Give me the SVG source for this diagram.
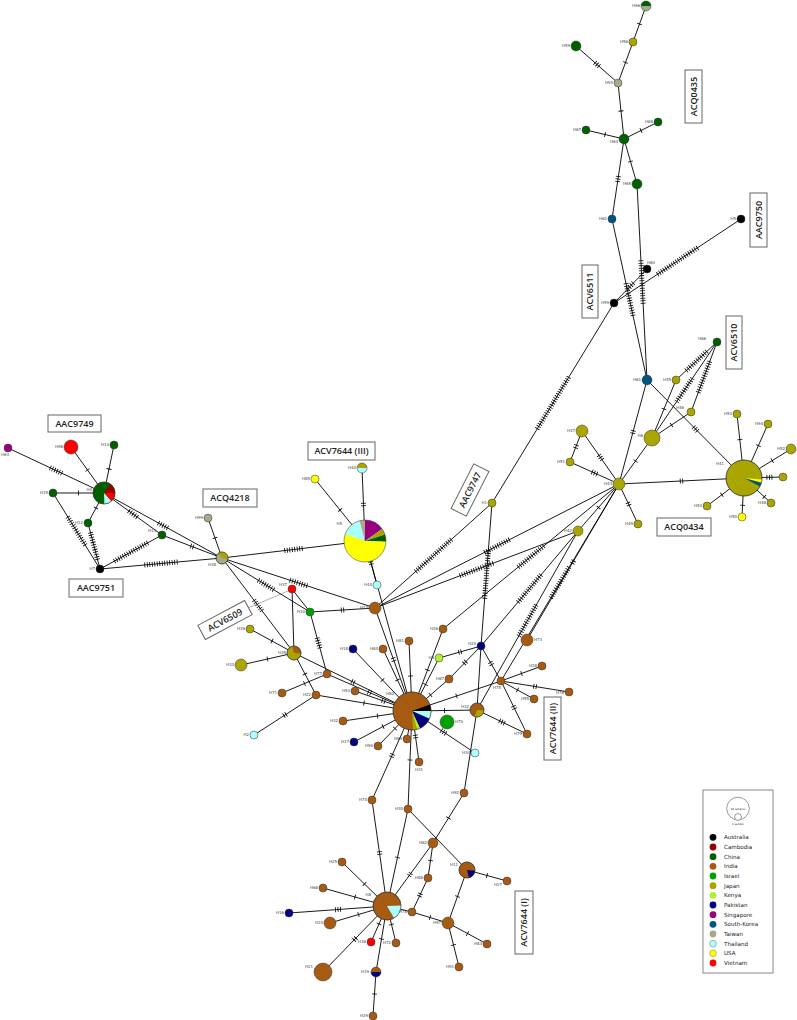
<svg xmlns="http://www.w3.org/2000/svg" width="797" height="1020" viewBox="0 0 797 1020">
<style>
.e polyline,.e line{fill:none;stroke:#000;stroke-width:0.9}
.tk{stroke:#000;stroke-width:5;stroke-dasharray:0.8 1.7;fill:none}
.t1{marker-mid:url(#m1)}.t2{marker-mid:url(#m2)}.t3{marker-mid:url(#m3)}.t4{marker-mid:url(#m4)}.t5{marker-mid:url(#m5)}.t6{marker-mid:url(#m6)}.t8{marker-mid:url(#m8)}.t12{marker-mid:url(#m12)}.t14{marker-mid:url(#m14)}.t15{marker-mid:url(#m15)}.t16{marker-mid:url(#m16)}.t18{marker-mid:url(#m18)}.t20{marker-mid:url(#m20)}.t25{marker-mid:url(#m25)}
.nd{stroke:#333;stroke-width:0.5}
.o{fill:none;stroke:#333;stroke-width:0.5}
.au{fill:#000}.ca{fill:#990000}.cn{fill:#006000}.in{fill:#a65a12}.is{fill:#00a000}.jp{fill:#aaa500}.ke{fill:#b0f030}.pk{fill:#000080}.sg{fill:#990080}.sk{fill:#00557f}.tw{fill:#a9a98a}.th{fill:#aaffff}.us{fill:#ffff00}.vn{fill:#ff0000}
text{font-family:"DejaVu Sans","Liberation Sans",sans-serif}
.nodes text{font-size:4px;fill:#444;text-anchor:end}
.nodes text.s{text-anchor:start}
.nodes text.m{text-anchor:middle}
.bx rect{fill:#fff;stroke:#666;stroke-width:1}
.bx text{font-family:"Open Sans","DejaVu Sans",sans-serif;font-size:9px;font-weight:600;fill:#222;text-anchor:middle}
.lg text{font-size:5.6px;fill:#222}
</style>
<defs>
<marker id="m1" markerUnits="userSpaceOnUse" orient="auto" overflow="visible" markerWidth="1" markerHeight="1"><line class="tk" x1="-0.4" x2="0.4"/></marker>
<marker id="m2" markerUnits="userSpaceOnUse" orient="auto" overflow="visible" markerWidth="1" markerHeight="1"><line class="tk" x1="-1.65" x2="1.65"/></marker>
<marker id="m3" markerUnits="userSpaceOnUse" orient="auto" overflow="visible" markerWidth="1" markerHeight="1"><line class="tk" x1="-2.9" x2="2.9"/></marker>
<marker id="m4" markerUnits="userSpaceOnUse" orient="auto" overflow="visible" markerWidth="1" markerHeight="1"><line class="tk" x1="-4.15" x2="4.15"/></marker>
<marker id="m5" markerUnits="userSpaceOnUse" orient="auto" overflow="visible" markerWidth="1" markerHeight="1"><line class="tk" x1="-5.4" x2="5.4"/></marker>
<marker id="m6" markerUnits="userSpaceOnUse" orient="auto" overflow="visible" markerWidth="1" markerHeight="1"><line class="tk" x1="-6.65" x2="6.65"/></marker>
<marker id="m8" markerUnits="userSpaceOnUse" orient="auto" overflow="visible" markerWidth="1" markerHeight="1"><line class="tk" x1="-9.15" x2="9.15"/></marker>
<marker id="m12" markerUnits="userSpaceOnUse" orient="auto" overflow="visible" markerWidth="1" markerHeight="1"><line class="tk" x1="-14.15" x2="14.15"/></marker>
<marker id="m14" markerUnits="userSpaceOnUse" orient="auto" overflow="visible" markerWidth="1" markerHeight="1"><line class="tk" x1="-16.65" x2="16.65"/></marker>
<marker id="m15" markerUnits="userSpaceOnUse" orient="auto" overflow="visible" markerWidth="1" markerHeight="1"><line class="tk" x1="-17.9" x2="17.9"/></marker>
<marker id="m16" markerUnits="userSpaceOnUse" orient="auto" overflow="visible" markerWidth="1" markerHeight="1"><line class="tk" x1="-19.15" x2="19.15"/></marker>
<marker id="m18" markerUnits="userSpaceOnUse" orient="auto" overflow="visible" markerWidth="1" markerHeight="1"><line class="tk" x1="-21.65" x2="21.65"/></marker>
<marker id="m20" markerUnits="userSpaceOnUse" orient="auto" overflow="visible" markerWidth="1" markerHeight="1"><line class="tk" x1="-24.15" x2="24.15"/></marker>
<marker id="m25" markerUnits="userSpaceOnUse" orient="auto" overflow="visible" markerWidth="1" markerHeight="1"><line class="tk" x1="-30.4" x2="30.4"/></marker>
</defs>
<rect width="797" height="1020" fill="#fff"/>

<g id="connectors" class="e">
<polyline class="t1" points="646,6 639.5,24 633,42"/>
<polyline class="t1" points="633,42 625.5,62.5 618,83"/>
<polyline class="t3" points="576,46 597,64.5 618,83"/>
<polyline class="t1" points="618,83 621,111 624,139"/>
<polyline class="t1" points="586,130 605,134.5 624,139"/>
<polyline class="t1" points="658,122 641,130.5 624,139"/>
<polyline class="t3" points="624,139 618,179 612,219"/>
<polyline class="t1" points="624,139 630.5,161.5 637,184"/>
<polyline class="t14" points="612,219 629.5,299.5 647,380"/>
<polyline class="t18" points="637,184 642,282 647,380"/>
<polyline class="t4" points="614,303 630.5,286 647,269"/>
<polyline class="t20" points="614,303 677.5,261 741,219"/>
<polyline class="t25" points="614,303 553,403 492,503"/>
<polyline class="t2" points="647,380 633,432 619,484"/>
<polyline class="t3" points="647,380 695.5,429 744,478"/>
<polyline class="t1" points="619,484 635.5,461 652,438"/>
<polyline class="t1" points="652,438 664,409 676,380"/>
<polyline class="t1" points="652,438 671.5,425 691,412"/>
<polyline class="t12" points="717,342 696.5,361 676,380"/>
<polyline class="t12" points="717,342 684.5,390 652,438"/>
<polyline class="t14" points="717,342 704,377 691,412"/>
<polyline class="t2" points="582,431 576,446.5 570,462"/>
<polyline class="t3" points="582,431 600.5,457.5 619,484"/>
<polyline class="t3" points="570,462 594.5,473 619,484"/>
<polyline class="t2" points="619,484 628.5,504 638,524"/>
<polyline class="t2" points="619,484 681.5,481 744,478"/>
<polyline class="t1" points="744,478 739.8,439.6 737,414"/>
<polyline class="t1" points="744,478 758.4,445.6 768,424"/>
<polyline class="t1" points="744,478 772.2,460.6 791,449"/>
<polyline class="t3" points="744,478 769.4,477.3 783,477"/>
<polyline class="t1" points="744,478 764.3,496.8 771,503"/>
<polyline class="t1" points="744,478 721.8,494.8 707,506"/>
<polyline class="t1" points="744,478 742.6,505.3 742,517"/>
<polyline class="t1" points="619,484 598.5,507.5 578,531"/>
<polyline class="t12" points="619,484 497,546 375,608"/>
<polyline class="t14" points="619,484 531,556.5 443,629"/>
<polyline class="t15" points="578,531 476.5,569.5 375,608"/>
<polyline class="t15" points="578,531 529.5,588.5 481,646"/>
<polyline class="t15" points="619,484 560,582.5 501,681"/>
<polyline class="t15" points="578,531 527.5,620.5 477,710"/>
<polyline class="t2" points="619,484 573,562 527,640"/>
<polyline class="t20" points="492,503 433.5,555.5 375,608"/>
<polyline class="t20" points="492,503 486.5,574.5 481,646"/>
<polyline class="t6" points="8,448 56,470.5 104,493"/>
<polyline class="t1" points="71,447 87.5,470 104,493"/>
<polyline class="t1" points="114,445 109,469 104,493"/>
<polyline class="t1" points="53,493 78.5,493 104,493"/>
<polyline class="t1" points="88,523 96,508 104,493"/>
<polyline class="t14" points="53,493 76.5,531 100,569"/>
<polyline class="t12" points="88,523 94,546 100,569"/>
<polyline class="t16" points="162,535 131,552 100,569"/>
<polyline class="t5" points="104,493 133,514 162,535"/>
<polyline class="t5" points="104,493 163,525.5 222,558"/>
<polyline class="t2" points="162,535 192,546.5 222,558"/>
<polyline class="t14" points="100,569 161,563.5 222,558"/>
<polyline class="t1" points="208,518 215,538 222,558"/>
<polyline class="t8" points="222,558 293.5,549.5 365,541"/>
<polyline class="t8" points="222,558 298.5,583 375,608"/>
<polyline class="t8" points="222,558 266,585 310,612"/>
<polyline class="t6" points="222,558 258,605.5 294,653"/>
<polyline class="t2" points="362,468 363.5,504.5 365,541"/>
<polyline class="t1" points="315,479 340,510 365,541"/>
<polyline class="t2" points="365,541 371,563 377,585"/>
<line x1="365" y1="541" x2="412" y2="711"/>
<polyline class="t2" points="310,612 342.5,610 375,608"/>
<line x1="292" y1="589" x2="310" y2="612"/>
<line x1="292" y1="589" x2="294" y2="653"/>
<polyline class="t5" points="310,612 318.5,643 327,674"/>
<polyline class="t1" points="250,629 272,641 294,653"/>
<polyline class="t1" points="241,665 267.5,659 294,653"/>
<polyline class="t2" points="294,653 353,682 412,711"/>
<polyline class="t1" points="294,653 305,674 316,695"/>
<polyline class="t1" points="282,693 304.5,683.5 327,674"/>
<polyline class="t2" points="327,674 369.5,692.5 412,711"/>
<polyline class="t2" points="316,695 285,715 254,735"/>
<polyline class="t1" points="316,695 364,703 412,711"/>
<polyline class="t1" points="353,649 382.5,680 412,711"/>
<polyline class="t1" points="383,649 397.5,680 412,711"/>
<polyline class="t1" points="409,641 410.5,676 412,711"/>
<polyline class="t2" points="375,608 393.5,659.5 412,711"/>
<polyline class="t2" points="355,691 383.5,701 412,711"/>
<polyline class="t1" points="343,721 377.5,716 412,711"/>
<polyline class="t1" points="354,742 383,726.5 412,711"/>
<polyline class="t1" points="378,746 395,728.5 412,711"/>
<line x1="407" y1="739" x2="412" y2="711"/>
<polyline class="t2" points="419,762 415.5,736.5 412,711"/>
<polyline class="t2" points="412,711 392,755.5 372,800"/>
<polyline class="t1" points="412,711 410,760 408,809"/>
<polyline class="t3" points="412,711 443.5,732 475,753"/>
<polyline class="t1" points="412,711 444.5,710.5 477,710"/>
<polyline class="t1" points="412,711 456.5,696 501,681"/>
<polyline class="t1" points="412,711 430.5,695 449,679"/>
<polyline class="t1" points="412,711 425.5,684.5 439,658"/>
<polyline class="t1" points="412,711 427.5,670 443,629"/>
<polyline class="t2" points="481,646 460,652 439,658"/>
<polyline class="t2" points="481,646 465,662.5 449,679"/>
<polyline class="t2" points="481,646 491,663.5 501,681"/>
<line x1="481" y1="646" x2="477" y2="710"/>
<line x1="477" y1="710" x2="464" y2="793"/>
<polyline class="t1" points="501,681 521.5,673.5 542,666"/>
<polyline class="t2" points="501,681 535,686.5 569,692"/>
<polyline class="t1" points="501,681 517.5,690 534,699"/>
<polyline class="t2" points="501,681 514,707.5 527,734"/>
<polyline class="t3" points="477,710 502,722 527,734"/>
<polyline class="t2" points="372,800 379.5,853 387,906"/>
<polyline class="t1" points="408,809 397.5,857.5 387,906"/>
<line x1="408" y1="809" x2="467" y2="870"/>
<polyline class="t1" points="464,793 448.5,818 433,843"/>
<polyline class="t2" points="433,843 410,874.5 387,906"/>
<polyline class="t1" points="433,843 430.5,860.5 428,878"/>
<polyline class="t2" points="428,878 420,895 412,912"/>
<line x1="412" y1="912" x2="387" y2="906"/>
<polyline class="t1" points="412,912 430,917.5 448,923"/>
<polyline class="t1" points="467,870 487,875.5 507,881"/>
<polyline class="t1" points="467,870 457.5,896.5 448,923"/>
<polyline class="t1" points="448,923 467.5,933.5 487,944"/>
<polyline class="t1" points="448,923 453.5,945 459,967"/>
<polyline class="t1" points="342,862 364.5,884 387,906"/>
<polyline class="t1" points="323,888 355,897 387,906"/>
<polyline class="t3" points="289,913 338,909.5 387,906"/>
<polyline class="t1" points="330,923 358.5,914.5 387,906"/>
<polyline class="t2" points="323,972 355,939 387,906"/>
<polyline class="t1" points="371,942 379,924 387,906"/>
<polyline class="t1" points="396,943 391.5,924.5 387,906"/>
<polyline class="t1" points="376,972 381.5,939 387,906"/>
<polyline class="t1" points="376,972 374.5,994 373,1016"/>
<line x1="248" y1="608" x2="288" y2="591" style="stroke:#666;stroke-width:0.5"/>
</g>

<g class="nodes">
<g id="n-H96"><path class="cn" d="M641,6 A5,5 0 0,1 651,6 Z"/><path class="tw" d="M641,6 A5,5 0 0,0 651,6 Z"/><circle class="o" cx="646" cy="6" r="5"/><text x="640" y="7.4">H96</text></g>
<g id="n-H58"><circle class="nd jp" cx="633" cy="42" r="4"/><text x="628" y="43.4">H58</text></g>
<g id="n-H59a"><circle class="nd cn" cx="576" cy="46" r="5"/><text x="570" y="47.4">H59</text></g>
<g id="n-H93"><circle class="nd tw" cx="618" cy="83" r="4"/><text x="613" y="84.4">H93</text></g>
<g id="n-H67"><circle class="nd cn" cx="586" cy="130" r="4"/><text x="581" y="131.4">H67</text></g>
<g id="n-H68a"><circle class="nd cn" cx="658" cy="122" r="4"/><text x="653" y="123.4">H68</text></g>
<g id="n-H64"><circle class="nd cn" cx="624" cy="139" r="5"/><text x="618" y="143.4">H64</text></g>
<g id="n-H65"><circle class="nd cn" cx="637" cy="184" r="5"/><text x="631" y="185.4">H65</text></g>
<g id="n-H62"><circle class="nd sk" cx="612" cy="219" r="4"/><text x="607" y="220.4">H62</text></g>
<g id="n-H5a"><circle class="nd au" cx="741" cy="219" r="4"/><text x="736" y="220.4">H5</text></g>
<g id="n-H60"><circle class="nd au" cx="647" cy="269" r="4"/><text class="s" x="647" y="264">H60</text></g>
<g id="n-H59b"><circle class="nd au" cx="614" cy="303" r="4"/><text x="609" y="304.4">H59</text></g>
<g id="n-H61"><circle class="nd sk" cx="647" cy="380" r="5"/><text x="641" y="381.4">H61</text></g>
<g id="n-H86"><circle class="nd cn" cx="717" cy="342" r="4"/><text x="706" y="339.5">H86</text></g>
<g id="n-H45"><circle class="nd jp" cx="676" cy="380" r="4"/><text x="671" y="381.4">H45</text></g>
<g id="n-H46"><circle class="nd jp" cx="691" cy="412" r="4"/><text x="684" y="409">H46</text></g>
<g id="n-H6"><circle class="nd jp" cx="652" cy="438" r="8"/><text x="643" y="437.4">H6</text></g>
<g id="n-H47"><circle class="nd jp" cx="582" cy="431" r="6"/><text x="575" y="432.4">H47</text></g>
<g id="n-H51"><circle class="nd jp" cx="570" cy="462" r="4"/><text x="565" y="463.4">H51</text></g>
<g id="n-H43"><circle class="nd jp" cx="619" cy="484" r="6"/><text x="612" y="485.4">H43</text></g>
<g id="n-H49"><circle class="nd jp" cx="638" cy="524" r="4"/><text x="633" y="525.4">H49</text></g>
<g id="n-H41"><circle class="nd jp" cx="744" cy="478" r="18"/><path class="us" d="M744,478 L761.93,479.57 A18,18 0 0,1 761.39,482.66 Z"/><path class="sk" d="M744,478 L761.39,482.66 A18,18 0 0,1 759.89,486.45 Z"/><circle class="o" cx="744" cy="478" r="18"/><text x="724" y="465">H41</text></g>
<g id="n-H53a"><circle class="nd jp" cx="737" cy="414" r="4"/><text x="732" y="415.4">H53</text></g>
<g id="n-H94"><circle class="nd jp" cx="768" cy="424" r="4"/><text x="763" y="425.4">H94</text></g>
<g id="n-H52"><circle class="nd jp" cx="791" cy="449" r="5"/><text x="785" y="450.4">H52</text></g>
<g id="n-H57"><circle class="nd jp" cx="783" cy="477" r="4"/></g>
<g id="n-H48"><circle class="nd jp" cx="771" cy="503" r="4"/><text x="766" y="504.4">H48</text></g>
<g id="n-H54"><circle class="nd jp" cx="707" cy="506" r="4"/><text x="702" y="507.4">H54</text></g>
<g id="n-H50"><circle class="nd us" cx="742" cy="517" r="4"/><text x="737" y="518.4">H50</text></g>
<g id="n-H42"><circle class="nd jp" cx="578" cy="531" r="5"/><text x="572" y="532.4">H42</text></g>

<g id="n-H63"><circle class="nd sg" cx="8" cy="448" r="4"/><text class="s" x="1" y="456">H63</text></g>
<g id="n-H98"><circle class="nd vn" cx="71" cy="447" r="7"/><text x="63" y="448.4">H98</text></g>
<g id="n-H14"><circle class="nd cn" cx="114" cy="445" r="4"/><text x="109" y="446.4">H14</text></g>
<g id="n-H4"><circle class="nd cn" cx="104" cy="493" r="11"/><path class="ca" d="M104,493 L110.31,483.99 A11,11 0 0,1 115,493 Z"/><path class="vn" d="M104,493 L115,493 A11,11 0 0,1 111.36,501.17 Z"/><path class="th" d="M104,493 L111.36,501.17 A11,11 0 0,1 104.38,503.99 Z"/><circle class="o" cx="104" cy="493" r="11"/><text x="92" y="491">H4</text></g>
<g id="n-H15"><circle class="nd cn" cx="53" cy="493" r="4"/><text x="48" y="494.4">H15</text></g>
<g id="n-H12"><circle class="nd cn" cx="88" cy="523" r="4"/><text x="83" y="524.4">H12</text></g>
<g id="n-H13"><circle class="nd cn" cx="162" cy="535" r="4"/><text x="156" y="532">H13</text></g>
<g id="n-H7"><circle class="nd au" cx="100" cy="569" r="4"/><text x="95" y="570.4">H7</text></g>
<g id="n-H99"><circle class="nd tw" cx="208" cy="518" r="4"/><text x="203" y="519.4">H99</text></g>
<g id="n-H38"><circle class="nd tw" cx="222" cy="558" r="6"/><path class="jp" d="M222,558 L218.14,553.4 A6,6 0 0,1 227.91,559.04 Z"/><circle class="o" cx="222" cy="558" r="6"/><text x="216" y="566">H38</text></g>

<g id="n-H40"><path class="jp" d="M357,468 A5,5 0 0,1 367,468 Z"/><path class="th" d="M357,468 A5,5 0 0,0 367,468 Z"/><circle class="o" cx="362" cy="468" r="5"/><text x="356" y="469.4">H40</text></g>
<g id="n-H85"><circle class="nd us" cx="315" cy="479" r="4"/><text x="310" y="480.4">H85</text></g>
<g id="n-H5b"><path class="sg" d="M365,541 L365,520 A21,21 0 0,1 382.2,528.95 Z"/><path class="jp" d="M365,541 L382.2,528.95 A21,21 0 0,1 384.97,534.51 Z"/><path class="cn" d="M365,541 L384.97,534.51 A21,21 0 0,1 385.99,541.73 Z"/><path class="us" d="M365,541 L385.99,541.73 A21,21 0 1,1 345.27,533.82 Z"/><path class="th" d="M365,541 L345.27,533.82 A21,21 0 0,1 359.57,520.72 Z"/><path class="tw" d="M365,541 L359.57,520.72 A21,21 0 0,1 365,520 Z"/><circle class="o" cx="365" cy="541" r="21"/><text x="342" y="525">H5</text></g>
<g id="n-H44"><circle class="nd th" cx="377" cy="585" r="4"/><text x="372" y="586.4">H44</text></g>
<g id="n-H23"><circle class="nd in" cx="375" cy="608" r="6"/><text x="368" y="609.4">H23</text></g>
<g id="n-H37"><circle class="nd vn" cx="292" cy="589" r="4"/><text x="287" y="585.5">H37</text></g>
<g id="n-H10"><circle class="nd is" cx="310" cy="612" r="4"/><text x="305" y="613.4">H10</text></g>
<g id="n-H1"><circle class="nd jp" cx="492" cy="503" r="4"/><text x="487" y="504.4">H1</text></g>
<g id="n-H39"><circle class="nd jp" cx="250" cy="629" r="4"/><text x="245" y="630.4">H39</text></g>
<g id="n-H33"><circle class="nd jp" cx="241" cy="665" r="6"/><text x="234" y="666.4">H33</text></g>
<g id="n-H35"><circle class="nd jp" cx="294" cy="653" r="7"/><path class="in" d="M294,653 L292.19,646.24 A7,7 0 0,1 300.97,653.61 Z"/><circle class="o" cx="294" cy="653" r="7"/><text x="286" y="654.4">H35</text></g>
<g id="n-H77"><circle class="nd in" cx="327" cy="674" r="4"/><text x="322" y="675.4">H77</text></g>
<g id="n-H71"><circle class="nd in" cx="282" cy="693" r="4"/><text x="277" y="694.4">H71</text></g>
<g id="n-H22"><circle class="nd in" cx="316" cy="695" r="4"/><text x="311" y="696.4">H22</text></g>
<g id="n-H2"><circle class="nd th" cx="254" cy="735" r="4"/><text x="249" y="736.4">H2</text></g>
<g id="n-H18"><circle class="nd pk" cx="353" cy="649" r="4"/><text x="348" y="650.4">H18</text></g>
<g id="n-H84"><circle class="nd in" cx="383" cy="649" r="4"/><text x="378" y="650.4">H84</text></g>
<g id="n-H81"><circle class="nd in" cx="409" cy="641" r="4"/><text x="404" y="642.4">H81</text></g>
<g id="n-H53b"><circle class="nd in" cx="355" cy="691" r="4"/><text x="350" y="692.4">H53</text></g>
<g id="n-H80"><circle class="nd in" cx="412" cy="711" r="19"/><path class="au" d="M412,711 L429.85,704.5 A19,19 0 0,1 431,711 Z"/><path class="th" d="M412,711 L431,711 A19,19 0 0,1 429.36,718.73 Z"/><path class="pk" d="M412,711 L429.36,718.73 A19,19 0 0,1 420.03,728.22 Z"/><path class="ke" d="M412,711 L420.03,728.22 A19,19 0 0,1 416.92,729.35 Z"/><path class="jp" d="M412,711 L416.92,729.35 A19,19 0 0,1 412.99,729.97 Z"/><circle class="o" cx="412" cy="711" r="19"/><text x="394" y="695">H80</text></g>
<g id="n-H32a"><circle class="nd in" cx="343" cy="721" r="4"/><text x="338" y="722.4">H32</text></g>
<g id="n-H17"><circle class="nd pk" cx="354" cy="742" r="4"/><text x="349" y="743.4">H17</text></g>
<g id="n-H90"><circle class="nd in" cx="378" cy="746" r="4"/><text x="373" y="747.4">H90</text></g>
<g id="n-H89"><circle class="nd in" cx="407" cy="739" r="4"/><text x="402" y="740.4">H89</text></g>
<g id="n-H31"><circle class="nd in" cx="419" cy="762" r="4"/><text class="m" x="419" y="771">H31</text></g>
<g id="n-H70"><circle class="nd is" cx="447" cy="722" r="7"/><text class="s" x="455" y="723.4">H70</text></g>
<g id="n-H9"><circle class="nd ke" cx="439" cy="658" r="4"/><text x="434" y="659.4">H9</text></g>
<g id="n-H87"><circle class="nd in" cx="449" cy="679" r="4"/><text x="444" y="680.4">H87</text></g>
<g id="n-H26"><circle class="nd in" cx="443" cy="629" r="4"/><text x="438" y="630.4">H26</text></g>
<g id="n-H20"><circle class="nd pk" cx="481" cy="646" r="4"/><text x="476" y="645">H20</text></g>
<g id="n-H73"><circle class="nd in" cx="527" cy="640" r="6"/><text class="s" x="534" y="641.4">H73</text></g>
<g id="n-H28"><circle class="nd in" cx="542" cy="666" r="4"/><text x="537" y="667.4">H28</text></g>
<g id="n-H75"><circle class="nd in" cx="501" cy="681" r="4"/><text class="s" x="493" y="689">H75</text></g>
<g id="n-H76"><circle class="nd in" cx="569" cy="692" r="4"/><text x="564" y="694">H76</text></g>
<g id="n-H55"><circle class="nd in" cx="534" cy="699" r="4"/><text x="529" y="700.4">H55</text></g>
<g id="n-H79"><circle class="nd in" cx="527" cy="734" r="4"/><text x="522" y="735.4">H79</text></g>
<g id="n-H32b"><circle class="nd in" cx="477" cy="710" r="7"/><path class="jp" d="M477,710 L483.97,710.61 A7,7 0 0,1 474.61,716.58 Z"/><circle class="o" cx="477" cy="710" r="7"/><text x="469" y="707.5">H32</text></g>
<g id="n-H34"><circle class="nd th" cx="475" cy="753" r="4"/><text x="470" y="754.4">H34</text></g>
<g id="n-H92"><circle class="nd in" cx="464" cy="793" r="4"/><text x="459" y="794.4">H92</text></g>

<g id="n-H74"><circle class="nd in" cx="372" cy="800" r="4"/><text x="367" y="801.4">H74</text></g>
<g id="n-H30"><circle class="nd in" cx="408" cy="809" r="4"/><text x="403" y="810.4">H30</text></g>
<g id="n-H82"><circle class="nd in" cx="433" cy="843" r="5"/><text x="427" y="844.4">H82</text></g>
<g id="n-H25"><circle class="nd in" cx="342" cy="862" r="4"/><text x="337" y="863.4">H25</text></g>
<g id="n-H11"><circle class="nd in" cx="467" cy="870" r="8"/><path class="pk" d="M467,870 L474.97,870.7 A8,8 0 0,1 469.07,877.73 Z"/><circle class="o" cx="467" cy="870" r="8"/><text x="458" y="866">H11</text></g>
<g id="n-H27"><circle class="nd in" cx="507" cy="881" r="4"/><text x="502" y="886">H27</text></g>
<g id="n-H68b"><circle class="nd in" cx="323" cy="888" r="4"/><text x="318" y="889.4">H68</text></g>
<g id="n-H88"><circle class="nd in" cx="428" cy="878" r="4"/><text x="423" y="879.4">H88</text></g>
<g id="n-H8"><circle class="nd in" cx="387" cy="906" r="14"/><path class="th" d="M387,906 L400.99,905.51 A14,14 0 0,1 394,918.12 Z"/><circle class="o" cx="387" cy="906" r="14"/><text x="371" y="896">H8</text></g>
<g id="n-H16"><circle class="nd pk" cx="289" cy="913" r="4"/><text x="284" y="914.4">H16</text></g>
<g id="n-H24"><circle class="nd in" cx="330" cy="923" r="6"/><text x="323" y="924.4">H24</text></g>
<g id="n-H78"><circle class="nd in" cx="412" cy="912" r="4"/><text x="407" y="913.4">H78</text></g>
<g id="n-H97"><circle class="nd in" cx="448" cy="923" r="6"/><text x="441" y="924.4">H97</text></g>
<g id="n-H83"><circle class="nd in" cx="487" cy="944" r="4"/><text x="482" y="945.4">H83</text></g>
<g id="n-H91"><circle class="nd in" cx="459" cy="967" r="4"/><text x="454" y="968.4">H91</text></g>
<g id="n-H36"><circle class="nd vn" cx="371" cy="942" r="4"/><text x="366" y="943.4">H36</text></g>
<g id="n-H72"><circle class="nd in" cx="396" cy="943" r="4"/><text x="391" y="944.4">H72</text></g>
<g id="n-H21"><circle class="nd in" cx="323" cy="972" r="9"/><text x="313" y="968">H21</text></g>
<g id="n-H19"><path class="in" d="M371,972 A5,5 0 0,1 381,972 Z"/><path class="pk" d="M371,972 A5,5 0 0,0 381,972 Z"/><circle class="o" cx="376" cy="972" r="5"/><text x="369" y="973.4">H19</text></g>
<g id="n-H29"><circle class="nd in" cx="373" cy="1016" r="4"/><text x="368" y="1017.4">H29</text></g>
</g>

<g class="bx">
<g id="lbl-ACQ0435"><rect x="685" y="70" width="17" height="53"/><text transform="translate(693.5,96.5) rotate(-90)" dy="3.2">ACQ0435</text></g>
<g id="lbl-AAC9750"><rect x="750" y="193" width="17" height="54"/><text transform="translate(758.5,220) rotate(-90)" dy="3.2">AAC9750</text></g>
<g id="lbl-ACV6511"><rect x="582" y="265" width="16" height="53"/><text transform="translate(590,291.5) rotate(-90)" dy="3.2">ACV6511</text></g>
<g id="lbl-ACV6510"><rect x="726" y="316" width="16" height="53"/><text transform="translate(734,342.5) rotate(-90)" dy="3.2">ACV6510</text></g>
<g id="lbl-ACQ0434"><rect x="657" y="518" width="54" height="18"/><text x="684" y="527" dy="3.2">ACQ0434</text></g>
<g id="lbl-AAC9749"><rect x="48" y="415" width="53" height="17"/><text x="74.5" y="423.5" dy="3.2">AAC9749</text></g>
<g id="lbl-AAC9751"><rect x="69" y="579" width="54" height="18"/><text x="96" y="588" dy="3.2">AAC9751</text></g>
<g id="lbl-ACQ4218"><rect x="203" y="489" width="54" height="18"/><text x="230" y="498" dy="3.2">ACQ4218</text></g>
<g id="lbl-ACV7644-III"><rect x="308" y="442" width="67" height="18"/><text x="341.5" y="451" dy="3.2">ACV7644 (III)</text></g>
<g id="lbl-AAC9747" transform="translate(470,490) rotate(-63)"><rect x="-25" y="-8.5" width="50" height="17"/><text dy="3.2">AAC9747</text></g>
<g id="lbl-ACV6509" transform="translate(225,620) rotate(-28)"><rect x="-26.5" y="-8" width="53" height="16"/><text dy="3.2">ACV6509</text></g>
<g id="lbl-ACV7644-II"><rect x="544" y="697" width="17" height="63"/><text transform="translate(552.5,728.5) rotate(-90)" dy="3.2">ACV7644 (II)</text></g>
<g id="lbl-ACV7644-I"><rect x="515" y="891" width="18" height="63"/><text transform="translate(524,922.5) rotate(-90)" dy="3.2">ACV7644 (I)</text></g>
</g>

<g id="legend" class="lg">
<rect x="703" y="790" width="70" height="183" fill="#fff" stroke="#888" stroke-width="1"/>
<circle cx="738" cy="808.5" r="11.3" fill="#fff" stroke="#555" stroke-width="0.6"/>
<circle cx="738" cy="817" r="3.4" fill="#fff" stroke="#555" stroke-width="0.6"/>
<text x="738" y="810" style="font-size:2.6px;text-anchor:middle">10 samples</text>
<text x="738" y="825" style="font-size:2.6px;text-anchor:middle">1 sample</text>
<circle class="au" cx="713" cy="837.3" r="3.4"/><text x="724" y="839.3">Australia</text>
<circle class="ca" cx="713" cy="847" r="3.4"/><text x="724" y="849">Cambodia</text>
<circle class="cn" cx="713" cy="856.7" r="3.4"/><text x="724" y="858.7">China</text>
<circle class="in" cx="713" cy="866.3" r="3.4"/><text x="724" y="868.3">India</text>
<circle class="is" cx="713" cy="876" r="3.4"/><text x="724" y="878">Israel</text>
<circle class="jp" cx="713" cy="885.7" r="3.4"/><text x="724" y="887.7">Japan</text>
<circle class="ke" cx="713" cy="895.3" r="3.4"/><text x="724" y="897.3">Kenya</text>
<circle class="pk" cx="713" cy="905" r="3.4"/><text x="724" y="907">Pakistan</text>
<circle class="sg" cx="713" cy="914.7" r="3.4"/><text x="724" y="916.7">Singapore</text>
<circle class="sk" cx="713" cy="924.3" r="3.4"/><text x="724" y="926.3">South-Korea</text>
<circle class="tw" cx="713" cy="934" r="3.4"/><text x="724" y="936">Taiwan</text>
<circle class="th" cx="713" cy="943.7" r="3.4" stroke="#555" stroke-width="0.4"/><text x="724" y="945.7">Thailand</text>
<circle class="us" cx="713" cy="953.3" r="3.4" stroke="#555" stroke-width="0.4"/><text x="724" y="955.3">USA</text>
<circle class="vn" cx="713" cy="963" r="3.4"/><text x="724" y="965">Vietnam</text>
</g>
</svg>
